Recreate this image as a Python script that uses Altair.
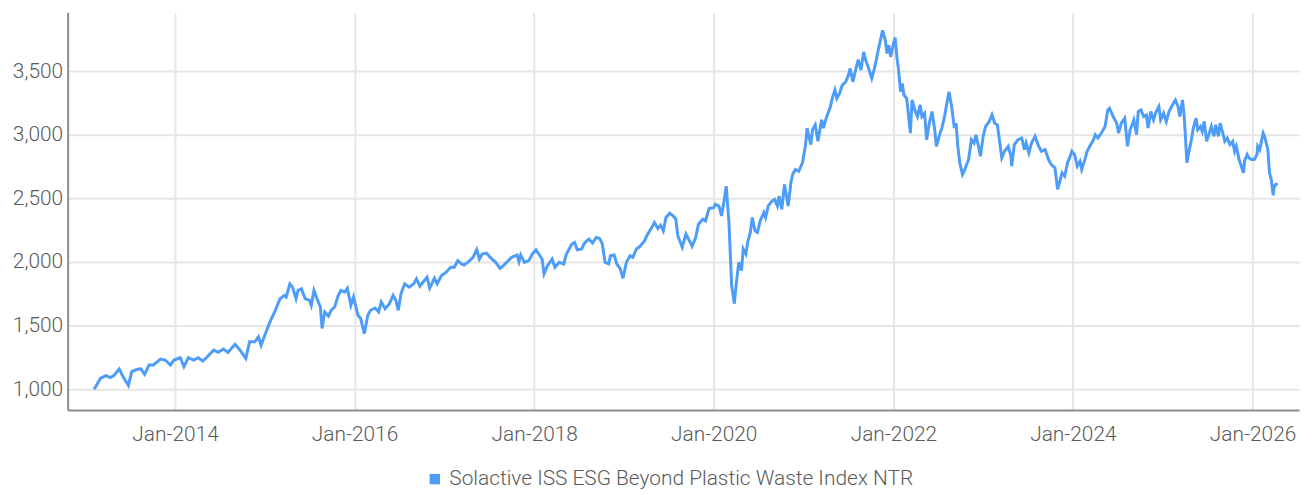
import altair as alt
import pandas as pd

SERIES = "Solactive ISS ESG Beyond Plastic Waste Index NTR"

# decimal years
years = [
    2013.10, 2013.17, 2013.23, 2013.28, 2013.32, 2013.38, 2013.42, 2013.48, 2013.52, 2013.58,
    2013.62, 2013.66, 2013.71, 2013.76, 2013.84, 2013.89, 2013.95, 2013.99, 2014.06, 2014.10,
    2014.15, 2014.21, 2014.26, 2014.31, 2014.35, 2014.43, 2014.48, 2014.54, 2014.59, 2014.67,
    2014.72, 2014.79, 2014.83, 2014.89, 2014.93, 2014.96, 2015.00, 2015.06, 2015.11, 2015.17,
    2015.22, 2015.24, 2015.28, 2015.31, 2015.35, 2015.37, 2015.41, 2015.45, 2015.50, 2015.52,
    2015.55, 2015.59, 2015.62, 2015.64, 2015.67, 2015.71, 2015.74, 2015.78, 2015.82, 2015.85,
    2015.89, 2015.92, 2015.96, 2015.99, 2016.04, 2016.07, 2016.11, 2016.15, 2016.18, 2016.23,
    2016.27, 2016.30, 2016.34, 2016.39, 2016.43, 2016.46, 2016.49, 2016.52, 2016.56, 2016.61,
    2016.66, 2016.69, 2016.73, 2016.78, 2016.81, 2016.84, 2016.89, 2016.92, 2016.97, 2017.02,
    2017.07, 2017.11, 2017.15, 2017.19, 2017.22, 2017.27, 2017.32, 2017.36, 2017.39, 2017.42,
    2017.47, 2017.51, 2017.57, 2017.62, 2017.65, 2017.70, 2017.75, 2017.81, 2017.83, 2017.85,
    2017.89, 2017.94, 2017.98, 2018.02, 2018.06, 2018.09, 2018.11, 2018.15, 2018.20, 2018.23,
    2018.28, 2018.33, 2018.36, 2018.42, 2018.45, 2018.48, 2018.53, 2018.56, 2018.61, 2018.65,
    2018.69, 2018.73, 2018.76, 2018.79, 2018.83, 2018.85, 2018.89, 2018.92, 2018.96, 2018.99,
    2019.03, 2019.07, 2019.10, 2019.14, 2019.18, 2019.23, 2019.26, 2019.30, 2019.34, 2019.38,
    2019.41, 2019.44, 2019.47, 2019.51, 2019.55, 2019.58, 2019.60, 2019.65, 2019.69, 2019.73,
    2019.76, 2019.80, 2019.83, 2019.88, 2019.91, 2019.95, 2020.00, 2020.02, 2020.06, 2020.09,
    2020.12, 2020.14, 2020.17, 2020.18, 2020.20, 2020.23, 2020.25, 2020.28, 2020.31, 2020.33,
    2020.36, 2020.38, 2020.41, 2020.43, 2020.46, 2020.49, 2020.52, 2020.56, 2020.58, 2020.61,
    2020.65, 2020.68, 2020.71, 2020.73, 2020.76, 2020.79, 2020.83, 2020.86, 2020.88, 2020.91,
    2020.95, 2020.99, 2021.02, 2021.04, 2021.08, 2021.10, 2021.13, 2021.16, 2021.20, 2021.22,
    2021.26, 2021.30, 2021.32, 2021.35, 2021.37, 2021.40, 2021.43, 2021.47, 2021.50, 2021.52,
    2021.55, 2021.58, 2021.61, 2021.64, 2021.67, 2021.69, 2021.72, 2021.76, 2021.79, 2021.82,
    2021.84, 2021.88, 2021.91, 2021.93, 2021.95, 2021.97, 2022.00, 2022.02, 2022.04, 2022.06,
    2022.08, 2022.10, 2022.12, 2022.15, 2022.17, 2022.19, 2022.21, 2022.24, 2022.27, 2022.30,
    2022.32, 2022.35, 2022.37, 2022.40, 2022.43, 2022.46, 2022.48, 2022.51, 2022.54, 2022.57,
    2022.59, 2022.62, 2022.65, 2022.68, 2022.70, 2022.72, 2022.74, 2022.77, 2022.79, 2022.81,
    2022.84, 2022.87, 2022.90, 2022.92, 2022.95, 2022.97, 2023.00, 2023.03, 2023.07, 2023.10,
    2023.13, 2023.16, 2023.18, 2023.21, 2023.24, 2023.28, 2023.31, 2023.32, 2023.35, 2023.39,
    2023.43, 2023.46, 2023.48, 2023.51, 2023.54, 2023.58, 2023.62, 2023.65, 2023.69, 2023.73,
    2023.76, 2023.80, 2023.83, 2023.86, 2023.88, 2023.91, 2023.94, 2023.97, 2023.99, 2024.02,
    2024.05, 2024.08, 2024.10, 2024.13, 2024.16, 2024.19, 2024.23, 2024.25, 2024.28, 2024.32,
    2024.36, 2024.39, 2024.41, 2024.45, 2024.49, 2024.51, 2024.54, 2024.58, 2024.61, 2024.64,
    2024.68, 2024.71, 2024.73, 2024.76, 2024.79, 2024.82, 2024.84, 2024.87, 2024.90, 2024.93,
    2024.96, 2024.98, 2025.01, 2025.04, 2025.07, 2025.09, 2025.12, 2025.14, 2025.17, 2025.19,
    2025.22, 2025.24, 2025.25, 2025.27, 2025.29, 2025.32, 2025.34, 2025.37, 2025.39, 2025.42,
    2025.44, 2025.46, 2025.49, 2025.52, 2025.54, 2025.57, 2025.59, 2025.62, 2025.64, 2025.67,
    2025.69, 2025.72, 2025.75, 2025.78, 2025.80, 2025.82, 2025.85, 2025.88, 2025.90, 2025.91,
    2025.94, 2025.96, 2025.99, 2026.02, 2026.05, 2026.06, 2026.08, 2026.10, 2026.12, 2026.14,
    2026.17, 2026.19, 2026.21, 2026.23, 2026.24, 2026.26, 2026.28,
]

values = [
    1000, 1086, 1107, 1091, 1107, 1159, 1099, 1029, 1138, 1156,
    1159, 1117, 1190, 1190, 1237, 1229, 1190, 1229, 1247, 1177,
    1247, 1229, 1247, 1221, 1247, 1307, 1289, 1315, 1289, 1352,
    1312, 1242, 1372, 1372, 1411, 1346, 1424, 1529, 1607, 1711,
    1737, 1724, 1828, 1802, 1711, 1776, 1789, 1711, 1698, 1659,
    1776, 1698, 1646, 1477, 1607, 1575, 1620, 1646, 1737, 1776,
    1763, 1794, 1659, 1724, 1581, 1555, 1437, 1581, 1620, 1638,
    1607, 1685, 1633, 1672, 1737, 1698, 1620, 1750, 1828, 1802,
    1828, 1867, 1810, 1854, 1880, 1794, 1872, 1828, 1893, 1919,
    1958, 1958, 2010, 1984, 1976, 2002, 2036, 2096, 2023, 2062,
    2070, 2036, 1997, 1950, 1966, 2002, 2036, 2055, 2002, 2055,
    1997, 2010, 2062, 2096, 2055, 2023, 1906, 1971, 2023, 1958,
    1997, 1984, 2062, 2141, 2154, 2096, 2102, 2148, 2180, 2148,
    2193, 2185, 2141, 1997, 1984, 2049, 2055, 1984, 1945, 1872,
    1997, 2049, 2036, 2102, 2122, 2167, 2211, 2258, 2310, 2263,
    2289, 2245, 2349, 2383, 2362, 2336, 2206, 2115, 2219, 2167,
    2122, 2193, 2297, 2336, 2323, 2419, 2427, 2453, 2440, 2362,
    2492, 2596, 2310, 2180, 1815, 1672, 1815, 1997, 1932, 2102,
    2062, 2154, 2232, 2349, 2245, 2232, 2323, 2388, 2349, 2440,
    2479, 2492, 2440, 2518, 2414, 2609, 2440, 2622, 2687, 2727,
    2713, 2779, 2909, 3052, 2922, 3039, 3078, 2948, 3117, 3052,
    3143, 3221, 3286, 3351, 3286, 3325, 3390, 3416, 3469, 3521,
    3416, 3508, 3591, 3508, 3651, 3586, 3534, 3443, 3521, 3625,
    3690, 3820, 3742, 3638, 3703, 3612, 3716, 3763, 3612, 3508,
    3338, 3403, 3312, 3286, 3143, 3013, 3273, 3195, 3143, 3234,
    3143, 3169, 2961, 3091, 3182, 3039, 2909, 2987, 3052, 3143,
    3221, 3338, 3221, 3052, 3091, 2909, 2779, 2687, 2713, 2753,
    2805, 2961, 2935, 3000, 2909, 2831, 2987, 3065, 3104, 3156,
    3091, 3078, 2974, 2818, 2870, 2909, 2831, 2753, 2922, 2961,
    2974, 2883, 2935, 2857, 2935, 2987, 2909, 2870, 2883, 2805,
    2766, 2740, 2570, 2648, 2700, 2674, 2779, 2831, 2870, 2844,
    2753, 2792, 2727, 2792, 2870, 2909, 2961, 3000, 2974, 3013,
    3065, 3195, 3208, 3143, 3091, 3013, 3091, 3130, 2909, 3039,
    3117, 3000, 3182, 3195, 3143, 3156, 3052, 3182, 3117, 3182,
    3221, 3117, 3169, 3104, 3182, 3208, 3247, 3273, 3221, 3143,
    3273, 3143, 3013, 2779, 2857, 2961, 3052, 3130, 3039, 3065,
    3026, 3104, 2948, 3013, 3065, 2987, 3078, 2987, 3091, 3013,
    2948, 2974, 2922, 2948, 2870, 2909, 2805, 2740, 2700, 2792,
    2844, 2818, 2805, 2805, 2844, 2909, 2883, 2948, 3013, 2974,
    2883, 2700, 2648, 2523, 2583, 2609, 2617,
]

x_tick_years = [2014, 2016, 2018, 2020, 2022, 2024, 2026]
y_ticks = [1000, 1500, 2000, 2500, 3000, 3500]


def to_date(y):
    yr = int(y)
    return (pd.Timestamp(year=yr, month=1, day=1)
            + pd.Timedelta(days=(y - yr) * 365.25)).strftime("%Y-%m-%d")


df = pd.DataFrame({
    "date": [to_date(y) for y in years],
    "value": values,
    "series": SERIES,
})

FONT = "Roboto"
WEIGHT = 300
FSIZE = 21
TEXT = "#5a5a5a"
LINE = "#4d9cf8"

chart = alt.Chart(df).mark_line(strokeWidth=3, color=LINE).encode(
    x=alt.X(
        "date:T",
        scale=alt.Scale(domain=[alt.DateTime(year=2012, month=10, date=21),
                                alt.DateTime(year=2026, month=7, date=9)]),
        axis=alt.Axis(
            values=[alt.DateTime(year=y, month=1, date=1) for y in x_tick_years],
            format="%b-%Y", title=None, labelPadding=14,
        ),
    ),
    y=alt.Y(
        "value:Q",
        scale=alt.Scale(domain=[836, 3961], nice=False, zero=False),
        axis=alt.Axis(values=y_ticks, format=",.0f", title=None, labelPadding=5),
    ),
    color=alt.Color(
        "series:N",
        scale=alt.Scale(range=[LINE]),
        legend=alt.Legend(
            title=None, orient="none", legendX=359, legendY=459,
            symbolType="square", symbolSize=110, symbolFillColor=LINE,
            symbolStrokeWidth=0, labelFontSize=FSIZE, labelFont=FONT,
            labelFontWeight=WEIGHT, labelLimit=0,
            labelColor=TEXT, padding=0, labelOffset=4,
        ),
    ),
).properties(
    width=1239, height=400,
    padding={"left": 60, "top": 3, "right": 6, "bottom": 84},
    autosize=alt.AutoSizeParams(type="none"),
).configure_axis(
    grid=True, gridColor="#e6e6e6", gridWidth=2,
    domain=True, domainColor="#8c8c8c", domainWidth=2,
    ticks=False, labelFont=FONT, labelFontSize=FSIZE, labelFontWeight=WEIGHT,
    labelColor=TEXT,
).configure_view(strokeWidth=0)

chart.save("out.html", embed_options={"renderer": "svg", "actions": False})
